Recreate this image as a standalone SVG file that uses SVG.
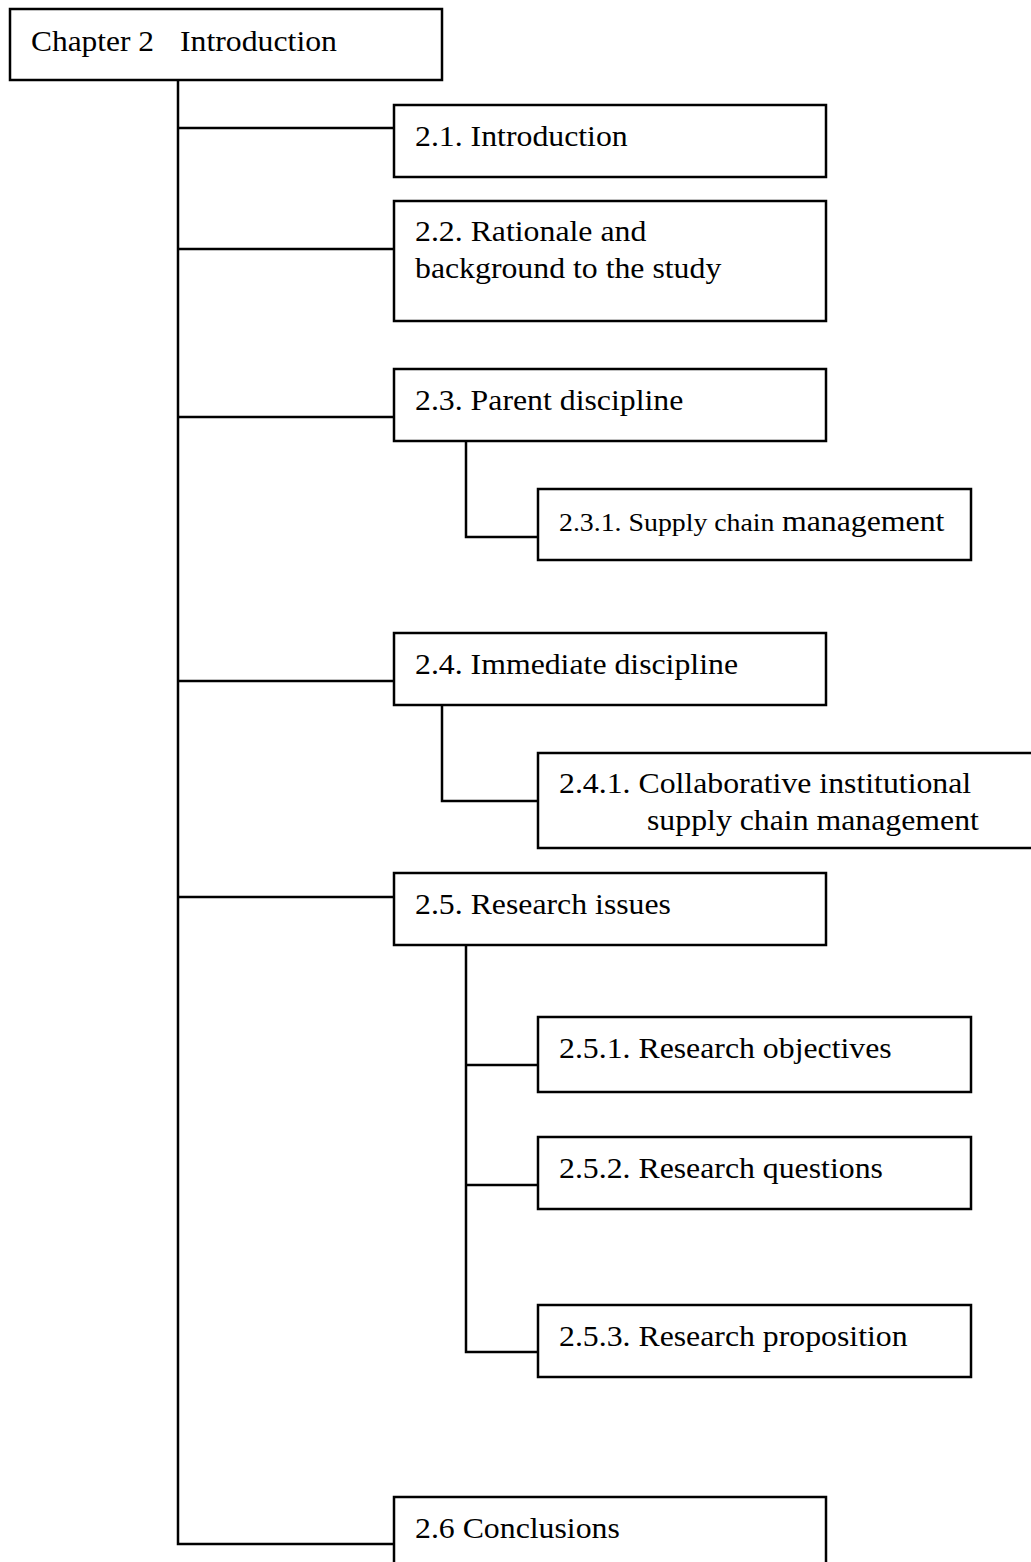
<svg xmlns="http://www.w3.org/2000/svg" width="1031" height="1562" viewBox="0 0 1031 1562" font-family="Liberation Serif" font-size="29">
<style>
.box{fill:#fff;stroke:#000;stroke-width:2.5}
.ln{fill:none;stroke:#000;stroke-width:2.5}
</style>
<rect width="1031" height="1562" fill="#fff"/>
<g id="connectors">
<polyline class="ln" points="178,80 178,1544 394,1544"/>
<line class="ln" x1="178" y1="128" x2="394" y2="128"/>
<line class="ln" x1="178" y1="249" x2="394" y2="249"/>
<line class="ln" x1="178" y1="417" x2="394" y2="417"/>
<line class="ln" x1="178" y1="681" x2="394" y2="681"/>
<line class="ln" x1="178" y1="897" x2="394" y2="897"/>
<polyline class="ln" points="466,441 466,537 538,537"/>
<polyline class="ln" points="442,705 442,801 538,801"/>
<polyline class="ln" points="466,945 466,1352 538,1352"/>
<line class="ln" x1="466" y1="1065" x2="538" y2="1065"/>
<line class="ln" x1="466" y1="1185" x2="538" y2="1185"/>
</g>
<g id="n-chapter"><rect class="box" x="10" y="9" width="432" height="71"/>
<text x="31" y="51" textLength="123" lengthAdjust="spacingAndGlyphs">Chapter 2</text>
<text x="180" y="51" textLength="157" lengthAdjust="spacingAndGlyphs">Introduction</text></g>
<g id="n-2-1"><rect class="box" x="394" y="105" width="432" height="72"/>
<text x="415" y="146" textLength="212.7" lengthAdjust="spacingAndGlyphs">2.1. Introduction</text></g>
<g id="n-2-2"><rect class="box" x="394" y="201" width="432" height="120"/>
<text x="415" y="241" textLength="231.3" lengthAdjust="spacingAndGlyphs">2.2. Rationale and</text>
<text x="415" y="278" textLength="306.3" lengthAdjust="spacingAndGlyphs">background to the study</text></g>
<g id="n-2-3"><rect class="box" x="394" y="369" width="432" height="72"/>
<text x="415" y="410" textLength="268.3" lengthAdjust="spacingAndGlyphs">2.3. Parent discipline</text></g>
<g id="n-2-3-1"><rect class="box" x="538" y="489" width="433" height="71"/>
<text x="559" y="531" font-size="25" textLength="215.5" lengthAdjust="spacingAndGlyphs">2.3.1. Supply chain</text>
<text x="782" y="531" textLength="162.4" lengthAdjust="spacingAndGlyphs">management</text></g>
<g id="n-2-4"><rect class="box" x="394" y="633" width="432" height="72"/>
<text x="415" y="674" textLength="323" lengthAdjust="spacingAndGlyphs">2.4. Immediate discipline</text></g>
<g id="n-2-4-1"><rect class="box" x="538" y="753" width="520" height="95"/>
<text x="559" y="793" textLength="412.2" lengthAdjust="spacingAndGlyphs">2.4.1. Collaborative institutional</text>
<text x="647" y="830" textLength="331.9" lengthAdjust="spacingAndGlyphs">supply chain management</text></g>
<g id="n-2-5"><rect class="box" x="394" y="873" width="432" height="72"/>
<text x="415" y="914" textLength="256" lengthAdjust="spacingAndGlyphs">2.5. Research issues</text></g>
<g id="n-2-5-1"><rect class="box" x="538" y="1017" width="433" height="75"/>
<text x="559" y="1058" textLength="332.7" lengthAdjust="spacingAndGlyphs">2.5.1. Research objectives</text></g>
<g id="n-2-5-2"><rect class="box" x="538" y="1137" width="433" height="72"/>
<text x="559" y="1178" textLength="323.9" lengthAdjust="spacingAndGlyphs">2.5.2. Research questions</text></g>
<g id="n-2-5-3"><rect class="box" x="538" y="1305" width="433" height="72"/>
<text x="559" y="1346" textLength="348.6" lengthAdjust="spacingAndGlyphs">2.5.3. Research proposition</text></g>
<g id="n-2-6"><rect class="box" x="394" y="1497" width="432" height="90"/>
<text x="415" y="1538" textLength="204.8" lengthAdjust="spacingAndGlyphs">2.6 Conclusions</text></g>
</svg>
